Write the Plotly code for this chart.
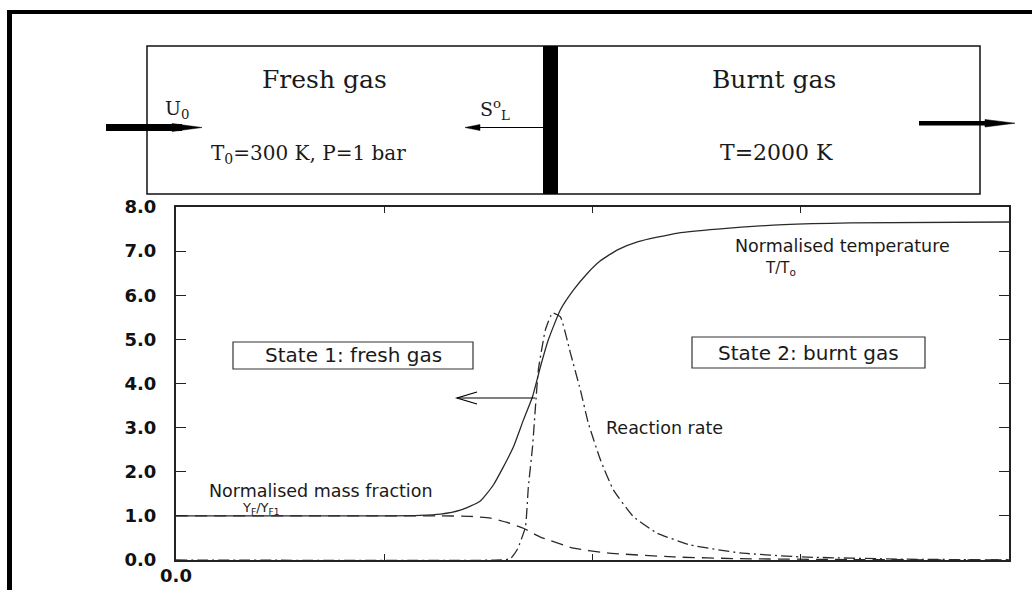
import plotly.graph_objects as go

# ---------------- data ----------------
x_temp = [0, 1.0, 1.17, 1.27, 1.365, 1.46, 1.524, 1.572, 1.62, 1.668, 1.712, 1.75, 1.788, 1.846,
          1.909, 1.976, 2.038, 2.12, 2.216, 2.41, 2.60, 2.92, 3.24, 4.0]
y_temp = [1.0, 1.0, 1.01, 1.04, 1.13, 1.33, 1.70, 2.11, 2.56, 3.17, 3.70, 4.38, 4.99, 5.67,
          6.12, 6.50, 6.78, 7.03, 7.21, 7.41, 7.50, 7.60, 7.64, 7.66]

x_mass = [0, 1.0, 1.27, 1.41, 1.51, 1.59, 1.668, 1.75, 1.909, 2.07, 2.39, 2.71, 3.24, 4.0]
y_mass = [1.0, 1.0, 1.0, 0.99, 0.95, 0.85, 0.72, 0.52, 0.27, 0.16, 0.07, 0.03, 0.01, 0.0]

x_rate = [0, 1.56, 1.606, 1.64, 1.678, 1.692, 1.712, 1.726, 1.74, 1.774, 1.808, 1.846,
          1.894, 1.942, 1.98, 2.038, 2.10, 2.197, 2.31, 2.47, 2.71, 3.0, 3.48, 4.0]
y_rate = [0, 0, 0.03, 0.25, 0.75, 1.66, 2.56, 3.47, 4.31, 5.22, 5.6, 5.51,
          4.69, 3.85, 3.1, 2.27, 1.59, 0.98, 0.61, 0.34, 0.16, 0.07, 0.02, 0.0]

y_tickvals = [0, 1, 2, 3, 4, 5, 6, 7, 8]
x_tickvals = [0, 1, 2, 3, 4]
x_ticktext = ["0.0", "", "", "", ""]

# ---------------- layout geometry (pixels) ----------------
W, H = 1032, 590
L, R, T, B = 176, 1009, 207, 560


def px(p):
    return (p - L) / (R - L)


def py(p):
    return (B - p) / (B - T)


LINE = "#2a2a2a"

fig = go.Figure()
fig.add_trace(go.Scatter(x=x_temp, y=y_temp, mode="lines",
                         line=dict(color=LINE, width=1.3, shape="spline", smoothing=0.5)))
fig.add_trace(go.Scatter(x=x_mass, y=y_mass, mode="lines",
                         line=dict(color=LINE, width=1.3, dash="12px,7px", shape="spline", smoothing=0.5)))
fig.add_trace(go.Scatter(x=x_rate, y=y_rate, mode="lines",
                         line=dict(color=LINE, width=1.3, dash="11px,4px,2px,4px", shape="spline", smoothing=0.4)))

shapes = []


def rect(x0, y0, x1, y1, fill=None, lw=0, lc="black"):
    shapes.append(dict(type="rect", xref="paper", yref="paper",
                       x0=px(x0), x1=px(x1), y0=py(y1), y1=py(y0),
                       fillcolor=fill if fill else "rgba(0,0,0,0)",
                       line=dict(width=lw, color=lc), layer="above"))


def path(points, fill=None, lw=1, close=True):
    d = "M " + " L ".join(f"{px(a)},{py(b)}" for a, b in points)
    if close:
        d += " Z"
    shapes.append(dict(type="path", xref="paper", yref="paper", path=d,
                       fillcolor=fill if fill else "rgba(0,0,0,0)",
                       line=dict(width=lw, color="black"), layer="above"))


# outer frame
rect(7, 10, 12, 590, fill="black")
rect(7, 10, 1032, 14, fill="black")
# schematic box
rect(147, 46, 980, 194, lw=1.5, lc="#111111")
# flame front
rect(543, 46, 558, 194, fill="black")
# inlet arrow (thick)
rect(106, 124, 182, 131, fill="black")
path([(172, 123.5), (202, 127.5), (172, 131.5)], fill="black", lw=0.5)
# flame speed arrow
path([(543, 127.5), (478, 127.5)], lw=1.2, close=False)
path([(465, 127.5), (480, 124.5), (480, 130.5)], fill="black", lw=0.5)
# outlet arrow
rect(919, 121, 990, 125.5, fill="black")
path([(985, 119.5), (1015, 123.2), (985, 127)], fill="black", lw=0.5)
# state boxes
rect(233, 342, 473, 369, lw=1.2, lc="#333333")
rect(692, 337, 925, 368, lw=1.2, lc="#333333")
# propagation arrow in plot (open head)
path([(535, 398), (457, 398)], lw=1.2, close=False)
path([(477, 392), (457, 398), (477, 404)], lw=1.2, close=False)

annots = []


def text(x, y, s, size, family="DejaVu Sans", xanchor="center", color="#1a1a1a"):
    annots.append(dict(x=px(x), y=py(y), xref="paper", yref="paper", text=s,
                       showarrow=False, xanchor=xanchor, yanchor="middle",
                       font=dict(size=size, family=family, color=color)))


SERIF = "DejaVu Serif"
text(324, 80, "Fresh gas", 25, SERIF)
text(774, 80, "Burnt gas", 25, SERIF)
text(163, 110, "U<sub>0</sub>", 19, SERIF, xanchor="left")
text(478, 110, "S<sup>o</sup><sub>L</sub>", 19, SERIF, xanchor="left")
text(308, 154, "T<sub>0</sub>=300 K, P=1 bar", 20, SERIF)
text(776, 152, "T=2000 K", 22, SERIF)

text(353, 355, "State 1: fresh gas", 20)
text(808, 353, "State 2: burnt gas", 20)
text(733, 246, "Normalised temperature", 17.5, xanchor="left")
text(763, 268, "T/T<sub>o</sub>", 15, xanchor="left")
text(604, 428, "Reaction rate", 17.5, xanchor="left")
text(207, 491, "Normalised mass fraction", 17.5, xanchor="left")
text(240, 508, "Y<sub>F</sub>/Y<sub>F1</sub>", 13, xanchor="left")

fig.update_layout(
    width=W, height=H,
    margin=dict(l=L, r=W - R, t=T, b=H - B, pad=0),
    paper_bgcolor="white", plot_bgcolor="white",
    showlegend=False,
    shapes=shapes, annotations=annots,
    xaxis=dict(range=[0, 4], tickvals=x_tickvals, ticktext=x_ticktext, automargin=False,
               ticks="inside", ticklen=6, tickcolor="#222", tickwidth=1.2,
               showline=True, linecolor="#222", linewidth=2, mirror="allticks",
               showgrid=False, zeroline=False,
               tickfont=dict(family="DejaVu Sans", size=18, color="#111", weight="bold"),
               ticklabelstandoff=-2),
    yaxis=dict(range=[0, 8], tickvals=y_tickvals, tickformat=".1f", automargin=False,
               ticks="inside", ticklen=10, tickcolor="#222", tickwidth=1.2,
               showline=True, linecolor="#222", linewidth=2, mirror="allticks",
               showgrid=False, zeroline=False,
               tickfont=dict(family="DejaVu Sans", size=18, color="#111", weight="bold"),
               ticklabelstandoff=14),
)

fig.write_html("out.html")
